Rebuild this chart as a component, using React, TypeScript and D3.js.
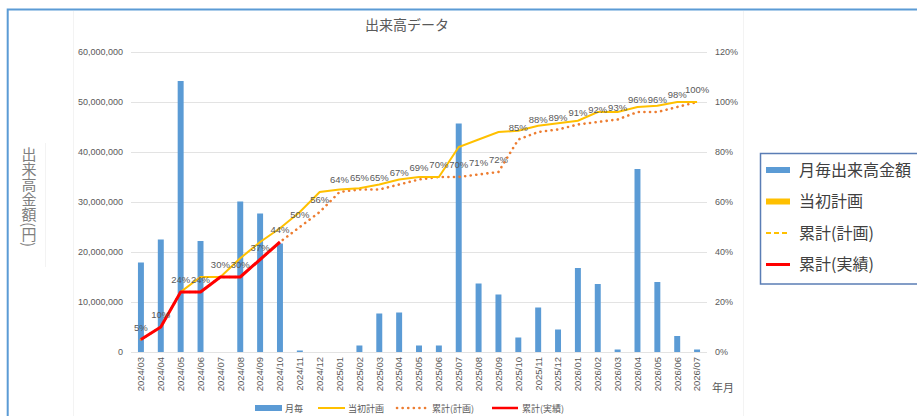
import { useEffect, useRef } from "react"
import * as d3 from "d3"

const months = [
  "2024/03", "2024/04", "2024/05", "2024/06", "2024/07", "2024/08", "2024/09", "2024/10",
  "2024/11", "2024/12", "2025/01", "2025/02", "2025/03", "2025/04", "2025/05", "2025/06",
  "2025/07", "2025/08", "2025/09", "2025/10", "2025/11", "2025/12", "2026/01", "2026/02",
  "2026/03", "2026/04", "2026/05", "2026/06", "2026/07",
]

// 月毎出来高金額 (円)
const monthly = [
  17900000, 22500000, 54200000, 22200000, 0, 30100000, 27700000, 21700000,
  300000, 0, 0, 1300000, 7700000, 7900000, 1300000, 1300000,
  45700000, 13700000, 11500000, 2900000, 8900000, 4500000, 16800000, 13600000,
  500000, 36600000, 14000000, 3200000, 500000,
]

// 当初計画 (%)
const initialPlan = [
  5, 10, 24, 30, 30, 37.5, 44, 49.5, 56, 64, 65, 65.5, 67, 69, 70, 70,
  82, 85, 88, 88.5, 90.5, 91.5, 92.5, 96, 96, 98, 98.5, 100, 100,
]

// 累計(計画) (%)
const cumPlan = [
  5, 10, 24, 24, 30, 30, 37, 44, 50, 56, 64, 65, 65, 67, 69, 70,
  70, 71, 72, 85, 88, 89, 91, 92, 93, 96, 96, 98, 100,
]

// 累計(実績) (%)
const cumActual = [5, 10, 24, 24, 30, 30, 37, 44]

const leftTicks = [0, 10000000, 20000000, 30000000, 40000000, 50000000, 60000000]
const rightTicks = [0, 20, 40, 60, 80, 100, 120]

const BLUE = "#5b9bd5"
const YELLOW = "#ffc000"
const ORANGE = "#ed7d31"
const RED = "#ff0000"
const GREY = "#595959"
const NUM_FONT = "'Liberation Sans', Arial, sans-serif"
const JP_FONT = "'Noto Sans CJK JP', sans-serif"
const DOTS = "0.1 5.5"

export default function App() {
  const svgRef = useRef<SVGSVGElement>(null)

  useEffect(() => {
    if (!svgRef.current) return
    const width = 917
    const height = 416
    const svg = d3.select(svgRef.current)
    svg.selectAll("*").remove()
    svg.attr("width", width).attr("height", height)

    const x = d3.scaleBand<string>().domain(months).range([131, 707]).paddingInner(0.7).paddingOuter(0.35)
    const cx = (m: string) => (x(m) as number) + x.bandwidth() / 2
    const yL = d3.scaleLinear().domain([0, 60000000]).range([352, 52])
    const yR = d3.scaleLinear().domain([0, 120]).range([352, 52])

    // outer frame
    svg.append("rect").attr("x", 7.7).attr("y", 9.5).attr("width", 1000).attr("height", 1000)
      .attr("fill", "none").attr("stroke", BLUE).attr("stroke-width", 2)

    // faint plot/title area lines
    svg.append("line").attr("x1", 73.5).attr("x2", 73.5).attr("y1", 11).attr("y2", 416)
      .attr("stroke", "#f3f3f3")
    svg.append("line").attr("x1", 743.5).attr("x2", 743.5).attr("y1", 11).attr("y2", 416)
      .attr("stroke", "#f3f3f3")
    svg.append("line").attr("x1", 45.5).attr("x2", 45.5).attr("y1", 143).attr("y2", 267)
      .attr("stroke", "#f3f3f3")

    // title
    svg.append("text").attr("x", 407).attr("y", 30).attr("text-anchor", "middle")
      .attr("font-family", JP_FONT).attr("font-size", 14).attr("fill", GREY).text("出来高データ")

    // gridlines
    svg.append("g").selectAll("line").data(leftTicks).join("line")
      .attr("x1", 131).attr("x2", 707)
      .attr("y1", (d) => Math.round(yL(d)) + 0.5).attr("y2", (d) => Math.round(yL(d)) + 0.5)
      .attr("stroke", "#e3e3e3")

    // left axis labels
    svg.append("g").selectAll("text").data(leftTicks).join("text")
      .attr("x", 123).attr("y", (d) => yL(d)).attr("dy", "0.35em").attr("text-anchor", "end")
      .attr("font-family", NUM_FONT).attr("font-size", 9).attr("fill", GREY)
      .text((d) => d3.format(",")(d))

    // right axis labels
    svg.append("g").selectAll("text").data(rightTicks).join("text")
      .attr("x", 715).attr("y", (d) => yR(d)).attr("dy", "0.35em").attr("text-anchor", "start")
      .attr("font-family", NUM_FONT).attr("font-size", 9).attr("fill", GREY)
      .text((d) => `${d}%`)

    // y axis title (vertical)
    svg.append("text").attr("x", 29).attr("y", 147)
      .attr("font-family", JP_FONT).attr("font-size", 15).attr("fill", "#7f7f7f")
      .style("writing-mode", "vertical-rl")
      .text("出来高金額(円)")

    // x tick labels
    svg.append("g").selectAll("text").data(months).join("text")
      .attr("transform", (d) => `translate(${cx(d)},357) rotate(-90)`)
      .attr("text-anchor", "end").attr("dy", "0.35em")
      .attr("font-family", NUM_FONT).attr("font-size", 9.5).attr("fill", GREY)
      .text((d) => d)

    svg.append("text").attr("x", 712).attr("y", 392)
      .attr("font-family", JP_FONT).attr("font-size", 11).attr("fill", GREY).text("年月")

    // bars
    svg.append("g").selectAll("rect").data(monthly).join("rect")
      .attr("x", (d, i) => x(months[i]) as number)
      .attr("width", x.bandwidth())
      .attr("y", (d) => yL(d))
      .attr("height", (d) => yL(0) - yL(d))
      .attr("fill", BLUE)

    const line = d3.line<number>()
      .x((d, i) => cx(months[i]))
      .y((d) => yR(d))

    svg.append("path").datum(cumPlan).attr("d", line).attr("fill", "none")
      .attr("stroke", ORANGE).attr("stroke-width", 2.6).attr("stroke-dasharray", DOTS)
      .attr("stroke-linecap", "round")
    svg.append("path").datum(initialPlan).attr("d", line).attr("fill", "none")
      .attr("stroke", YELLOW).attr("stroke-width", 2)
    svg.append("path").datum(cumActual).attr("d", line).attr("fill", "none")
      .attr("stroke", RED).attr("stroke-width", 3).attr("stroke-linejoin", "round")

    // data labels
    svg.append("g").selectAll("text").data(cumPlan).join("text")
      .attr("x", (d, i) => cx(months[i]))
      .attr("y", (d) => yR(d) - 9)
      .attr("text-anchor", "middle")
      .attr("font-family", NUM_FONT).attr("font-size", 9.5).attr("fill", GREY)
      .text((d) => `${Math.round(d)}%`)

    // bottom legend
    const bottom = svg.append("g").attr("font-family", JP_FONT).attr("font-size", 9).attr("fill", GREY)
    bottom.append("rect").attr("x", 255).attr("y", 405).attr("width", 27).attr("height", 6).attr("fill", BLUE)
    bottom.append("text").attr("x", 285).attr("y", 411.5).text("月毎")
    bottom.append("line").attr("x1", 318).attr("x2", 345).attr("y1", 408).attr("y2", 408)
      .attr("stroke", YELLOW).attr("stroke-width", 2)
    bottom.append("text").attr("x", 348).attr("y", 411.5).text("当初計画")
    bottom.append("line").attr("x1", 397).attr("x2", 428).attr("y1", 408).attr("y2", 408)
      .attr("stroke", ORANGE).attr("stroke-width", 2.6).attr("stroke-dasharray", DOTS)
      .attr("stroke-linecap", "round")
    bottom.append("text").attr("x", 432).attr("y", 411.5).text("累計(計画)")
    bottom.append("line").attr("x1", 492).attr("x2", 518).attr("y1", 408).attr("y2", 408)
      .attr("stroke", RED).attr("stroke-width", 2.5)
    bottom.append("text").attr("x", 522).attr("y", 411.5).text("累計(実績)")

    // right legend box
    const legend = svg.append("g")
    legend.append("rect").attr("x", 760.5).attr("y", 153.5).attr("width", 200).attr("height", 130.5)
      .attr("fill", "#fff").attr("stroke", "#5a7db5").attr("stroke-width", 1.5)
    const items = [
      { name: "月毎出来高金額", kind: "bar" },
      { name: "当初計画", kind: "thick" },
      { name: "累計(計画)", kind: "dash" },
      { name: "累計(実績)", kind: "red" },
    ]
    items.forEach((it, i) => {
      const yy = 170 + i * 31.5
      if (it.kind === "bar") {
        legend.append("rect").attr("x", 766).attr("y", yy - 3).attr("width", 24).attr("height", 6).attr("fill", BLUE)
      } else if (it.kind === "thick") {
        legend.append("rect").attr("x", 766).attr("y", yy - 3).attr("width", 24).attr("height", 6).attr("fill", YELLOW)
      } else if (it.kind === "dash") {
        legend.append("line").attr("x1", 766).attr("x2", 790).attr("y1", yy).attr("y2", yy)
          .attr("stroke", YELLOW).attr("stroke-width", 2).attr("stroke-dasharray", "5 3")
      } else {
        legend.append("line").attr("x1", 766).attr("x2", 790).attr("y1", yy).attr("y2", yy)
          .attr("stroke", RED).attr("stroke-width", 3)
      }
      legend.append("text").attr("x", 799).attr("y", yy).attr("dy", "0.35em")
        .attr("font-family", JP_FONT).attr("font-size", 16).attr("fill", "#404040")
        .text(it.name)
    })
  }, [])

  return (
    <div style={{ position: "absolute", left: 0, top: 0, width: 917, height: 416, background: "#fff" }}>
      <svg ref={svgRef} style={{ display: "block" }}></svg>
    </div>
  )
}
